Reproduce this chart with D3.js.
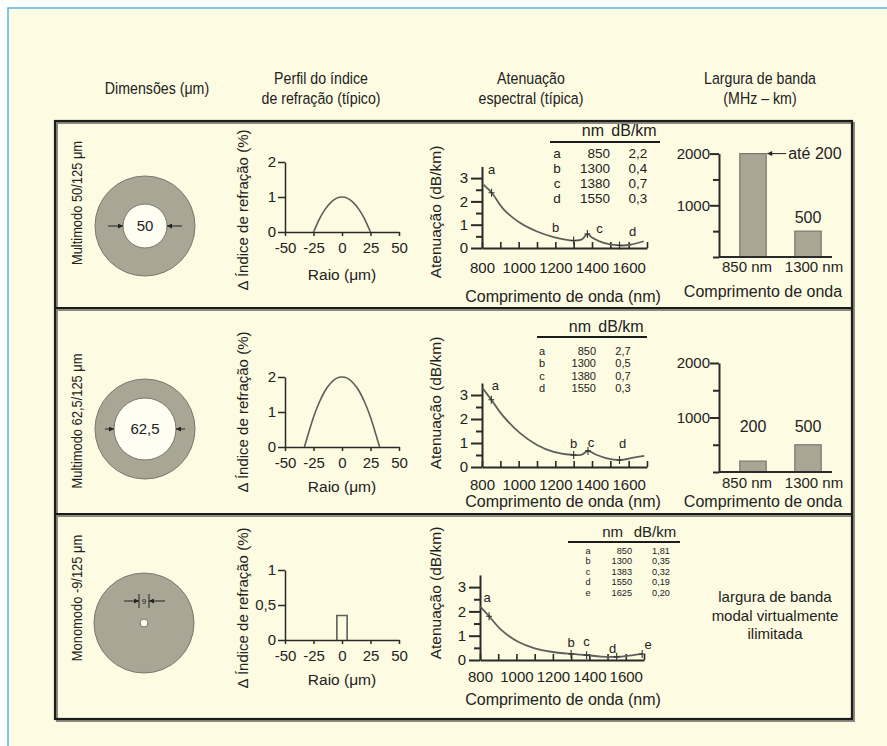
<!DOCTYPE html>
<html><head><meta charset="utf-8">
<script src="https://cdn.jsdelivr.net/npm/d3@7/dist/d3.min.js"></script>
<style>
html,body{margin:0;padding:0;background:#fff}
svg{display:block}
text{font-family:"Liberation Sans",Arial,Helvetica,sans-serif;fill:#222}
</style></head><body>
<svg id="chart" width="887" height="746"></svg>
<script>
// ================= DATA =================
const columnTitles = [["Dimensões  (μm)"],["Perfil do índice","de refração (típico)"],["Atenuação","espectral (típica)"],["Largura de banda","(MHz – km)"]];
const fiberNames = ["Multimodo 50/125  μm","Multimodo 62,5/125  μm","Monomodo -9/125  μm"];
const coreLabels = ["50","62,5","9"];

// refractive index profiles (radius μm, Δn %)
const radiusTicks = [-50,-25,0,25,50];
const indexTicksMM = [0,1,2];
const indexTicksSM = [0,0.5,1];
const indexTickTextSM = ["0","0,5","1"];
const profile50 = [[-25,0],[-22,0.22],[-20,0.36],[-15,0.64],[-10,0.84],[-5,0.96],[0,1],[5,0.96],[10,0.84],[15,0.64],[20,0.36],[22,0.22],[25,0]];
const profile62 = [[-33,0],[-30,0.33],[-25,0.85],[-20,1.27],[-15,1.6],[-10,1.82],[-5,1.96],[0,2],[5,1.96],[10,1.82],[15,1.6],[20,1.27],[25,0.85],[30,0.33],[33,0]];
const profileSM = [[-4.5,0],[-4.5,0.35],[4.5,0.35],[4.5,0]];

// spectral attenuation (nm, dB/km)
const waveLabels = [800,1000,1200,1400,1600];
const waveMinor = [800,900,1000,1100,1200,1300,1400,1500,1600,1700];
const attenLabels = [0,1,2,3];
const attenMinor = [0,0.5,1,1.5,2,2.5,3];
const atten50 = [[808,2.72],[854,2.36],[918,1.66],[1009,1.07],[1100,0.71],[1191,0.47],[1300,0.32],[1345,0.37],[1375,0.6],[1402,0.44],[1464,0.22],[1550,0.11],[1609,0.14],[1682,0.29]];
const markNm50 = [852,1300,1375,1550];
const markDb50 = [2.37,0.32,0.6,0.11];
const tabLetters50 = ["a","b","c","d"];
const tabNm50 = ["850","1300","1380","1550"];
const tabDb50 = ["2,2","0,4","0,7","0,3"];

const atten62 = [[803,3.29],[851,2.8],[918,2.1],[1009,1.4],[1100,0.92],[1191,0.63],[1300,0.5],[1345,0.52],[1378,0.67],[1420,0.52],[1482,0.36],[1550,0.29],[1627,0.39],[1685,0.46]];
const markNm62 = [851,1300,1378,1550];
const markDb62 = [2.8,0.5,0.67,0.29];
const tabLetters62 = ["a","b","c","d"];
const tabNm62 = ["850","1300","1380","1550"];
const tabDb62 = ["2,7","0,5","0,7","0,3"];

const attenSM = [[802,2.2],[850,1.8],[918,1.23],[1009,0.75],[1100,0.48],[1191,0.34],[1300,0.25],[1385,0.2],[1464,0.14],[1550,0.13],[1620,0.18],[1690,0.25]];
const markNmSM = [850,1300,1385,1550,1690];
const markDbSM = [1.8,0.25,0.2,0.13,0.25];
const tabLettersSM = ["a","b","c","d","e"];
const tabNmSM = ["850","1300","1383","1550","1625"];
const tabDbSM = ["1,81","0,35","0,32","0,19","0,20"];

// modal bandwidth (MHz·km)
const bandCats = ["850 nm","1300 nm"];
const bandwidth50 = [2000,500];
const bandText50 = ["até 200","500"];
const bandwidth62 = [200,500];
const bandText62 = ["200","500"];
const bandTicks = [0,500,1000,1500,2000];
const bandTickLabels = [1000,2000];
const smNote = ["largura de banda","modal virtualmente","ilimitada"];

// ================= STYLE / LAYOUT =================
const W=887,H=746;
const bg="#fdfbe1", ink="#222", axisCol="#2a2a2a", curveCol="#5e5e5a", grayFill="#a9a696", grayStroke="#7a786e";
const svg=d3.select("#chart");
const defs=svg.append("defs");
defs.append("marker").attr("id","ah").attr("viewBox","0 0 6 6").attr("refX",6).attr("refY",3)
  .attr("markerWidth",6).attr("markerHeight",5).attr("markerUnits","userSpaceOnUse").attr("orient","auto")
  .append("path").attr("d","M0,0L6,3L0,6Z").attr("fill","#222");

svg.append("rect").attr("width",W).attr("height",H).attr("fill","#fff");
svg.append("rect").attr("x",8).attr("y",8).attr("width",W-8).attr("height",H-8).attr("fill",bg);
svg.append("path").attr("d",`M8,${H}V8H${W}`).attr("fill","none").attr("stroke","#5ab2e4").attr("stroke-width",1.5);

const box={x0:55,x1:852,y0:121,y1:719}, dividers=[308,514];
svg.append("rect").attr("x",box.x0+2).attr("y",box.y0+2).attr("width",box.x1-box.x0).attr("height",box.y1-box.y0)
  .attr("fill","none").attr("stroke","#8d8b80").attr("stroke-width",2);
dividers.forEach(y=>svg.append("line").attr("x1",box.x0).attr("x2",box.x1).attr("y1",y+2).attr("y2",y+2).attr("stroke","#8d8b80").attr("stroke-width",2));
svg.append("rect").attr("x",box.x0).attr("y",box.y0).attr("width",box.x1-box.x0).attr("height",box.y1-box.y0)
  .attr("fill","none").attr("stroke","#1c1c1c").attr("stroke-width",2.2);
dividers.forEach(y=>svg.append("line").attr("x1",box.x0).attr("x2",box.x1).attr("y1",y).attr("y2",y).attr("stroke","#1c1c1c").attr("stroke-width",2.2));

// condensed text helper (narrow face emulated by horizontal scaling)
function narrowText(x,y,txt,size,sx,rot){
  return svg.append("text").attr("transform",`translate(${x},${y})${rot?" rotate(-90)":""} scale(${sx},1)`)
    .attr("text-anchor","middle").attr("font-size",size).attr("dy",rot?"0.36em":null).text(txt);
}

// headers
const headerX=[157,321,531,760];
columnTitles.forEach((lines,i)=>{
  lines.forEach((s,j)=>narrowText(headerX[i],lines.length===1?94:84+j*20,s,16.5,0.86,false));
});

function rotLabel(x,y,txt,size){
  svg.append("text").attr("transform",`translate(${x},${y}) rotate(-90)`).attr("text-anchor","middle")
    .attr("dy","0.36em").attr("font-size",size).text(txt);
}
function styleAxis(g,size,sw){
  g.attr("font-family",null).attr("font-size",size);
  g.selectAll("path.domain").attr("stroke",axisCol).attr("stroke-width",sw);
  g.selectAll(".tick line").attr("stroke",axisCol).attr("stroke-width",sw);
  g.selectAll(".tick text").attr("fill",ink);
}
const plain=d=>String(d);

// ---------- fiber cross sections ----------
const rows=[
  {label:[77,203], cx:145, cy:226, R:50, r:22, arrow:[108,182]},
  {label:[77,421], cx:145, cy:429, R:50, r:31, arrow:[105,185]},
  {label:[77,598], cx:144, cy:623, R:50, r:4}
];
rows.forEach((L,i)=>{
  narrowText(L.label[0],L.label[1],fiberNames[i],15,0.86,true);
  svg.append("circle").attr("cx",L.cx).attr("cy",L.cy).attr("r",L.R).attr("fill",grayFill).attr("stroke",grayStroke).attr("stroke-width",1);
  svg.append("circle").attr("cx",L.cx).attr("cy",L.cy).attr("r",L.r).attr("fill","#fffef2").attr("stroke",grayStroke).attr("stroke-width",1);
  if(i<2){
    svg.append("text").attr("x",L.cx).attr("y",L.cy).attr("dy","0.36em").attr("text-anchor","middle").attr("font-size",15).text(coreLabels[i]);
    svg.append("line").attr("x1",L.arrow[0]).attr("x2",L.cx-L.r).attr("y1",L.cy).attr("y2",L.cy).attr("stroke","#222").attr("stroke-width",1).attr("marker-end","url(#ah)");
    svg.append("line").attr("x1",L.arrow[1]).attr("x2",L.cx+L.r).attr("y1",L.cy).attr("y2",L.cy).attr("stroke","#222").attr("stroke-width",1).attr("marker-end","url(#ah)");
  } else {
    const yy=L.cy-22, xl=L.cx-5, xr=L.cx+5;
    [xl,xr].forEach(x=>svg.append("line").attr("x1",x).attr("x2",x).attr("y1",yy-7).attr("y2",yy+7).attr("stroke","#222").attr("stroke-width",1));
    svg.append("line").attr("x1",L.cx-20).attr("x2",xl).attr("y1",yy).attr("y2",yy).attr("stroke","#222").attr("marker-end","url(#ah)");
    svg.append("line").attr("x1",L.cx+21).attr("x2",xr).attr("y1",yy).attr("y2",yy).attr("stroke","#222").attr("marker-end","url(#ah)");
    svg.append("text").attr("x",L.cx).attr("y",yy).attr("dy","0.36em").attr("text-anchor","middle").attr("font-size",8).text(coreLabels[i]);
  }
});

// ---------- refractive index profiles ----------
const profLayout=[
  {y0:232, dom:[0,2], ticks:indexTicksMM, fmt:plain, data:profile50, step:false, raio:280, title:210},
  {y0:447, dom:[0,2], ticks:indexTicksMM, fmt:plain, data:profile62, step:false, raio:492, title:412},
  {y0:640, dom:[0,1], ticks:indexTicksSM, fmt:(d,i)=>indexTickTextSM[i], data:profileSM, step:true, raio:685, title:608}
];
profLayout.forEach(P=>{
  const x=d3.scaleLinear().domain([-50,50]).range([285,399]);
  const y=d3.scaleLinear().domain(P.dom).range([P.y0,P.y0-70]);
  const gx=svg.append("g").attr("transform",`translate(0,${P.y0})`)
    .call(d3.axisBottom(x).tickValues(radiusTicks).tickFormat(plain).tickSize(4).tickSizeOuter(0).tickPadding(6));
  styleAxis(gx,15,1.5);
  const gy=svg.append("g").attr("transform",`translate(285,0)`)
    .call(d3.axisLeft(y).tickValues(P.ticks).tickFormat(P.fmt).tickSize(7).tickSizeOuter(0).tickPadding(2));
  styleAxis(gy,15,1.5);
  const line=d3.line().x(d=>x(d[0])).y(d=>y(d[1])).curve(P.step?d3.curveLinear:d3.curveMonotoneX);
  svg.append("path").attr("d",line(P.data)).attr("fill","none").attr("stroke",curveCol).attr("stroke-width",1.6);
  svg.append("text").attr("x",342).attr("y",P.raio).attr("text-anchor","middle").attr("font-size",15.5).text("Raio (μm)");
  rotLabel(243,P.title,"Δ Índice de refração (%)",15);
});

// ---------- spectral attenuation ----------
const attLayout=[
  {x0:482,x1:647,y0:248,k:23.3,data:atten50,mnm:markNm50,mdb:markDb50,letters:tabLetters50,
   off:[[0,-23],[-18,-13],[12,-5],[13,-14]],tick:273,title:302,ytitle:212,
   tab:{ly:142,lx0:550,lx1:660,hb:136,hfs:16,nmH:604,dbH:634,r0:157.5,st:15.2,lx:557,nx:610,dx:638,fs:13.5},
   nm:tabNm50,db:tabDb50},
  {x0:482,x1:647,y0:467,k:24,data:atten62,mnm:markNm62,mdb:markDb62,letters:tabLetters62,
   off:[[4,-14],[0,-11],[3,-8],[3,-16]],tick:490,title:507,ytitle:403,
   tab:{ly:337,lx0:537,lx1:647,hb:332,hfs:16,nmH:591,dbH:621,r0:355,st:12.4,lx:542,nx:596,dx:623,fs:11},
   nm:tabNm62,db:tabDb62},
  {x0:480,x1:644,y0:660,k:24.3,data:attenSM,mnm:markNmSM,mdb:markDbSM,letters:tabLettersSM,
   off:[[-2,-18],[0,-11],[0,-13],[-4,-8],[6,-9]],tick:682,title:705,ytitle:593,
   tab:{ly:542,lx0:568,lx1:680,hb:537,hfs:15,nmH:623,dbH:655,r0:554,st:10.4,lx:588,nx:632,dx:661,fs:9.2},
   nm:tabNmSM,db:tabDbSM}
];
attLayout.forEach(A=>{
  const x=d3.scaleLinear().domain([800,1700]).range([A.x0,A.x1]);
  const y=d3.scaleLinear().domain([0,3.5]).range([A.y0,A.y0-3.5*A.k]);
  const gl=svg.append("g").attr("transform",`translate(0,${A.y0})`)
    .call(d3.axisBottom(x).tickValues(waveLabels).tickFormat(plain).tickSize(0).tickSizeOuter(0).tickPadding(A.tick-A.y0-11));
  styleAxis(gl,15,2);
  const gt=svg.append("g").attr("transform",`translate(0,${A.y0})`)
    .call(d3.axisTop(x).tickValues(waveMinor).tickSize(6).tickSizeOuter(0).tickFormat(""));
  styleAxis(gt,15,1.6); gt.select("path.domain").remove();
  const gy=svg.append("g").attr("transform",`translate(${A.x0},0)`)
    .call(d3.axisLeft(y).tickValues(attenMinor).tickSize(6).tickSizeOuter(0).tickFormat(d=>Number.isInteger(d)?String(d):"").tickPadding(9));
  styleAxis(gy,15,2);
  gy.selectAll(".tick").filter(d=>Number.isInteger(d)).select("line").attr("x2",-11);
  gy.selectAll(".tick text").attr("x",-14);
  const line=d3.line().x(d=>x(d[0])).y(d=>y(d[1])).curve(d3.curveCatmullRom.alpha(0.5));
  svg.append("path").attr("d",line(A.data)).attr("fill","none").attr("stroke",curveCol).attr("stroke-width",1.8);
  A.mnm.forEach((nm,i)=>{
    const px=x(nm), py=y(A.mdb[i]);
    svg.append("path").attr("d",`M${px-3},${py}H${px+3}M${px},${py-4}V${py+4}`).attr("stroke","#333").attr("stroke-width",1.1);
    svg.append("text").attr("x",px+A.off[i][0]).attr("y",py+A.off[i][1]).attr("dy","0.32em").attr("text-anchor","middle").attr("font-size",13).text(A.letters[i]);
  });
  svg.append("text").attr("x",563).attr("y",A.title).attr("text-anchor","middle").attr("font-size",16).text("Comprimento de onda (nm)");
  rotLabel(435,A.ytitle,"Atenuação (dB/km)",15.5);
  const T=A.tab;
  svg.append("line").attr("x1",T.lx0).attr("x2",T.lx1).attr("y1",T.ly).attr("y2",T.ly).attr("stroke","#1c1c1c").attr("stroke-width",2);
  svg.append("text").attr("x",T.nmH).attr("y",T.hb).attr("text-anchor","end").attr("font-size",T.hfs).text("nm");
  svg.append("text").attr("x",T.dbH).attr("y",T.hb).attr("text-anchor","middle").attr("font-size",T.hfs).text("dB/km");
  A.letters.forEach((l,i)=>{
    const yb=T.r0+i*T.st;
    svg.append("text").attr("x",T.lx).attr("y",yb).attr("text-anchor","middle").attr("font-size",T.fs).text(l);
    svg.append("text").attr("x",T.nx).attr("y",yb).attr("text-anchor","end").attr("font-size",T.fs).text(A.nm[i]);
    svg.append("text").attr("x",T.dx).attr("y",yb).attr("text-anchor","middle").attr("font-size",T.fs).text(A.db[i]);
  });
});

// ---------- bandwidth bars ----------
const bwLayout=[
  {y0:257,k:0.0517,vals:bandwidth50,txt:bandText50,cat:272,title:297},
  {y0:472,k:0.0545,vals:bandwidth62,txt:bandText62,cat:488,title:507}
];
const catShift=[-6,6];
bwLayout.forEach((B,bi)=>{
  const x=d3.scaleBand().domain(bandCats).range([725.5,835.5]).paddingInner(0.52).paddingOuter(0.26);
  const y=d3.scaleLinear().domain([0,2000]).range([B.y0,B.y0-2000*B.k]);
  svg.append("g").selectAll("rect").data(B.vals).join("rect")
    .attr("x",(d,i)=>x(bandCats[i])).attr("width",x.bandwidth())
    .attr("y",d=>y(d)).attr("height",d=>y(0)-y(d))
    .attr("fill",grayFill).attr("stroke",grayStroke).attr("stroke-width",1.2);
  const gy=svg.append("g").attr("transform","translate(719,0)")
    .call(d3.axisLeft(y).tickValues(bandTicks).tickSize(6).tickSizeOuter(0).tickFormat(d=>bandTickLabels.includes(d)?String(d):"").tickPadding(2));
  styleAxis(gy,15,2);
  gy.selectAll(".tick").filter(d=>bandTickLabels.includes(d)).select("line").attr("x2",-9);
  gy.selectAll(".tick text").attr("x",-9);
  svg.append("line").attr("x1",719).attr("x2",832).attr("y1",B.y0).attr("y2",B.y0).attr("stroke",axisCol).attr("stroke-width",2);
  bandCats.forEach((c,i)=>svg.append("text").attr("x",x(c)+x.bandwidth()/2+catShift[i]).attr("y",B.cat).attr("text-anchor","middle").attr("font-size",15).text(c));
  svg.append("text").attr("x",763).attr("y",B.title).attr("text-anchor","middle").attr("font-size",16).text("Comprimento de onda");
  if(bi===0){
    const xr=x(bandCats[0])+x.bandwidth(), yt=y(B.vals[0]);
    svg.append("line").attr("x1",xr+20).attr("x2",xr+1).attr("y1",yt).attr("y2",yt).attr("stroke","#222").attr("marker-end","url(#ah)");
    svg.append("text").attr("x",xr+22).attr("y",yt).attr("dy","0.32em").attr("font-size",16).text(B.txt[0]);
    svg.append("text").attr("x",x(bandCats[1])+x.bandwidth()/2).attr("y",y(B.vals[1])-8).attr("text-anchor","middle").attr("font-size",16).text(B.txt[1]);
  } else {
    bandCats.forEach((c,i)=>svg.append("text").attr("x",x(c)+x.bandwidth()/2).attr("y",y(850)+6).attr("text-anchor","middle").attr("font-size",16).text(B.txt[i]));
  }
});
smNote.forEach((s,i)=>svg.append("text").attr("x",775).attr("y",602+i*18.5).attr("text-anchor","middle").attr("font-size",15).text(s));
</script>
</body></html>
